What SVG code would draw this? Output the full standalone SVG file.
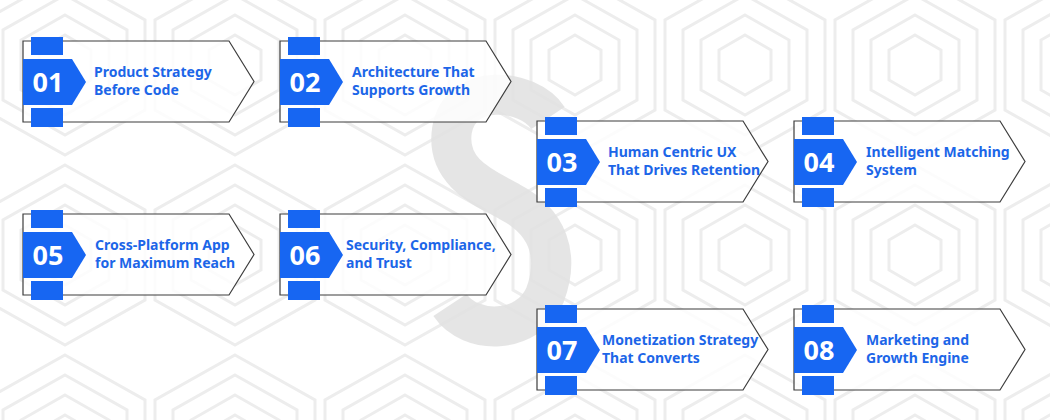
<svg xmlns="http://www.w3.org/2000/svg" width="1050" height="420" viewBox="0 0 1050 420">
<style>
.card{fill:#ffffff;fill-opacity:0.82;stroke:#3d3d3d;stroke-width:1.2}
.blue{fill:#1766f2}
.num{font-family:"Noto Sans","Liberation Sans",sans-serif;font-weight:700;font-size:27px;fill:#ffffff;text-anchor:middle}
.ttl{font-family:"Noto Sans","Liberation Sans",sans-serif;font-weight:700;font-size:14px;fill:#1c66e8}
.hex{fill:none;stroke:#ededed;stroke-width:3}
</style>
<defs>
<pattern id="hp" x="-20" y="-30" width="170" height="190" patternUnits="userSpaceOnUse">
<path class="hex" d="M85,5 L165,50 L165,140 L85,185 L5,140 L5,50 Z"/>
<path class="hex" d="M85,25 L147,60 L147,130 L85,165 L23,130 L23,60 Z"/>
<path class="hex" d="M85,45 L129,70 L129,120 L85,145 L41,120 L41,70 Z"/>
<path class="hex" d="M85,65 L111,80 L111,110 L85,125 L59,110 L59,80 Z"/>
</pattern>
<g id="shape">
<path class="card" d="M0,0 H206 L231,40.5 L206,81 H0 Z"/>
<rect class="blue" x="8" y="-4" width="32" height="18"/>
<path class="blue" d="M0,18 H49 L63,41 L49,64 H0 Z"/>
<rect class="blue" x="8" y="67" width="32" height="19"/>
</g>
</defs>
<rect width="1050" height="420" fill="#ffffff"/>
<rect width="1050" height="420" fill="url(#hp)"/>
<g id="logo" fill="none" stroke="#e0e0e0" stroke-width="40" stroke-linecap="butt" opacity="0.85">
<path d="M548,118 C528,88 460,82 452,130 C445,175 490,190 510,202 C548,222 560,255 545,295 C528,335 470,335 450,305"/>
</g>
<g id="connectors"></g>
<g id="node1" transform="translate(23,41)">
<use href="#shape"/>
<text class="num" x="25" y="51">01</text>
<text class="ttl" x="71" y="36">Product Strategy</text>
<text class="ttl" x="71" y="54">Before Code</text>
</g>
<g id="node2" transform="translate(280,41)">
<use href="#shape"/>
<text class="num" x="25" y="51">02</text>
<text class="ttl" x="72" y="36">Architecture That</text>
<text class="ttl" x="72" y="54">Supports Growth</text>
</g>
<g id="node3" transform="translate(537,121)">
<use href="#shape"/>
<text class="num" x="25" y="51">03</text>
<text class="ttl" x="71" y="36">Human Centric UX</text>
<text class="ttl" x="71" y="54">That Drives Retention</text>
</g>
<g id="node4" transform="translate(794,121)">
<use href="#shape"/>
<text class="num" x="25" y="51">04</text>
<text class="ttl" x="72" y="36">Intelligent Matching</text>
<text class="ttl" x="72" y="54">System</text>
</g>
<g id="node5" transform="translate(23,214)">
<use href="#shape"/>
<text class="num" x="25" y="51">05</text>
<text class="ttl" x="72" y="36">Cross-Platform App</text>
<text class="ttl" x="72" y="54">for Maximum Reach</text>
</g>
<g id="node6" transform="translate(280,214)">
<use href="#shape"/>
<text class="num" x="25" y="51">06</text>
<text class="ttl" x="66" y="36">Security, Compliance,</text>
<text class="ttl" x="66" y="54">and Trust</text>
</g>
<g id="node7" transform="translate(537,309)">
<use href="#shape"/>
<text class="num" x="25" y="51">07</text>
<text class="ttl" x="65" y="36">Monetization Strategy</text>
<text class="ttl" x="65" y="54">That Converts</text>
</g>
<g id="node8" transform="translate(794,309)">
<use href="#shape"/>
<text class="num" x="25" y="51">08</text>
<text class="ttl" x="72" y="36">Marketing and</text>
<text class="ttl" x="72" y="54">Growth Engine</text>
</g>
</svg>
